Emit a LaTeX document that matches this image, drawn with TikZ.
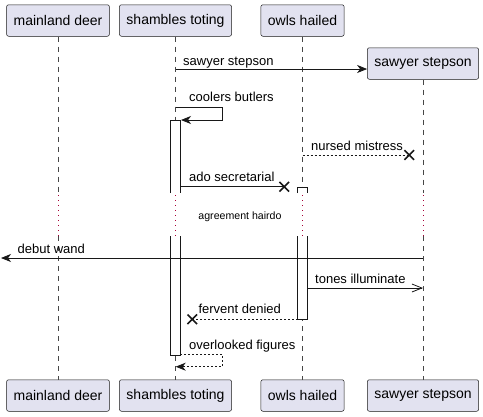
\documentclass[tikz,border=0pt]{standalone}
\usepackage{fontspec}
\setmainfont{Liberation Sans}
\usetikzlibrary{arrows.meta,calc,shapes.misc}
\definecolor{partfill}{HTML}{E2E2F0}
\definecolor{partline}{HTML}{181818}
\definecolor{delayline}{HTML}{A80036}

\begin{document}
\begin{tikzpicture}[x=1pt,y=-1pt,
    participant/.style={draw=partline,fill=partfill,line width=0.5pt,rounded corners=2pt,
        minimum height=31.5pt,inner xsep=7pt,font=\fontsize{14}{16}\selectfont},
    lifeline/.style={partline!80,line width=0.5pt,dash pattern=on 5pt off 5pt},
    delay/.style={delayline,line width=1pt,dash pattern=on 1pt off 4pt},
    activation/.style={partline,fill=white,line width=0.8pt},
    msg/.style={partline,line width=0.8pt,-{Stealth[length=10pt,width=8pt,inset=3pt]}},
    openmsg/.style={partline,line width=0.8pt,-{Straight Barb[length=10pt,width=8pt]}},
    reply/.style={msg,dash pattern=on 2pt off 2pt},
    lostreply/.style={partline,line width=0.8pt,dash pattern=on 2pt off 2pt},
    lost/.style={draw=partline,cross out,line width=1.6pt,minimum size=8pt,inner sep=0pt},
    msgtext/.style={anchor=base west,inner sep=0pt,font=\fontsize{13}{15}\selectfont},
    delaytext/.style={inner sep=0pt,font=\fontsize{10.6}{12}\selectfont}]
    \useasboundingbox (0,0) rectangle (483,416);

    \node[participant] (md-top) at (58,20.5) {mainland deer};
    \node[participant] (st-top) at (175.5,20.5) {shambles toting};
    \node[participant] (oh-top) at (302.5,20.5) {owls hailed};
    \node[participant] (ss-top) at (423,63.5) {sawyer stepson};
    \node[participant] (md-bot) at (58,395.5) {mainland deer};
    \node[participant] (st-bot) at (175.5,395.5) {shambles toting};
    \node[participant] (oh-bot) at (302.5,395.5) {owls hailed};
    \node[participant] (ss-bot) at (423,395.5) {sawyer stepson};

    \coordinate (delaytop) at (0,193);
    \coordinate (delaybot) at (0,236);
    \foreach \p in {md,st,oh,ss} {
        \draw[lifeline] (\p-top) -- (\p-top |- delaytop);
        \draw[delay] ($(\p-top |- delaytop)+(0,2)$) -- (\p-top |- delaybot);
        \draw[lifeline] (\p-top |- delaybot) -- (\p-bot);
    }
    \node[delaytext] (delay) at (240,217) {agreement hairdo};

    \draw[activation] (170.5,193) -- (170.5,120) -- (180.3,120) -- (180.3,193);
    \draw[activation] (170.5,236) -- (170.5,355.3) -- (180.3,355.3) -- (180.3,236);
    \draw[activation] (297.7,193) -- (297.7,187) -- (307.3,187) -- (307.3,193);
    \draw[activation] (297.7,236) -- (297.7,319) -- (307.3,319) -- (307.3,236);

    \coordinate (m1) at (175.5,69);
    \draw[msg] (m1) -- (m1 -| ss-top.west);
    \node[msgtext] (t1) at (183,65) {sawyer stepson};

    \coordinate (m2a) at (175.5,107);
    \coordinate (m2b) at (222.3,107);
    \coordinate (m2c) at (222.3,120);
    \coordinate (m2d) at (181,120);
    \draw[msg] (m2a) -- (m2b) -- (m2c) -- (m2d);
    \node[msgtext] (t2) at (189,101.7) {coolers butlers};

    \coordinate (m3) at (302.5,155);
    \node[lost] (x3) at (409.3,155) {};
    \draw[lostreply] (m3) -- (x3.center);
    \node[msgtext] (t3) at (311,150.5) {nursed mistress};

    \coordinate (m4) at (180.3,186.7);
    \node[lost] (x4) at (284.3,186.7) {};
    \draw[partline,line width=0.8pt] (m4) -- (x4.center);
    \node[msgtext] (t4) at (189,181) {ado secretarial};

    \coordinate (m5) at (423,258);
    \coordinate (edge) at (1,258);
    \draw[msg] (m5) -- (edge);
    \node[msgtext] (t5) at (17.5,253.3) {debut wand};

    \coordinate (m6) at (307.3,288);
    \draw[openmsg] (m6) -- (m6 -| ss-top);
    \node[msgtext] (t6) at (315,283.3) {tones illuminate};

    \coordinate (m7) at (297.7,319.3);
    \node[lost] (x7) at (192.3,319.3) {};
    \draw[lostreply] (m7) -- (x7.center);
    \node[msgtext] (t7) at (198.3,313.5) {fervent denied};

    \coordinate (m8a) at (180.3,354.3);
    \coordinate (m8b) at (222.3,354.3);
    \coordinate (m8c) at (222.3,366.7);
    \coordinate (m8d) at (175.7,366.7);
    \draw[reply] (m8a) -- (m8b) -- (m8c) -- (m8d);
    \node[msgtext] (t8) at (189,349.5) {overlooked figures};
\end{tikzpicture}
\end{document}
